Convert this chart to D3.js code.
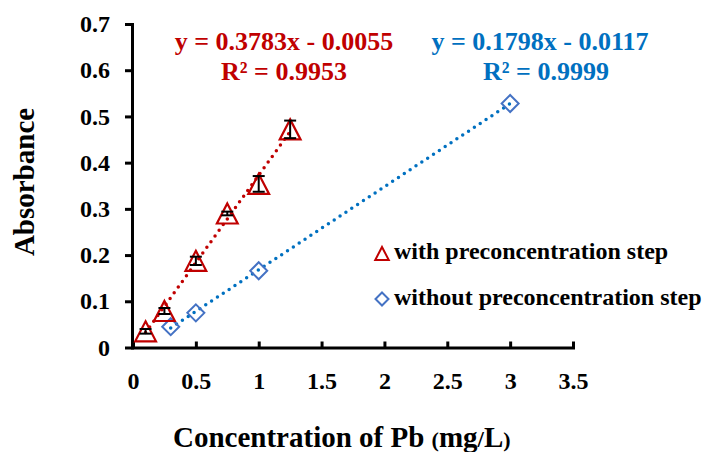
<!DOCTYPE html>
<html>
<head>
<meta charset="utf-8">
<script src="https://cdn.jsdelivr.net/npm/d3@7"></script>
<style>
  body { margin: 0; background: #fff; }
  svg { display: block; font-family: "Liberation Serif", "Times New Roman", serif; font-weight: bold; }
</style>
</head>
<body>
<svg id="chart"></svg>
<script>
const w = 702;
const h = 452;

// with preconcentration step
const withX = [0.1, 0.25, 0.5, 0.75, 1.0, 1.25];
const withY = [0.035, 0.079, 0.1875, 0.290, 0.354, 0.472];
const withErr = [0.005, 0.0065, 0.009, 0.004, 0.017, 0.019];

// without preconcentration step
const withoutX = [0.3, 0.5, 1.0, 3.0];
const withoutY = [0.045, 0.075, 0.166, 0.528];

const withFit = { slope: 0.3783, intercept: -0.0055 };
const withoutFit = { slope: 0.1798, intercept: -0.0117 };

const xTicks = [0, 0.5, 1, 1.5, 2, 2.5, 3, 3.5];
const yTicks = [0, 0.1, 0.2, 0.3, 0.4, 0.5, 0.6, 0.7];

const legendLabels = ['with preconcentration step', 'without preconcentration step'];

const red = '#C00000';
const blue = '#0070C0';
const diamondBlue = '#4472C4';

const svg = d3.select('#chart').attr('width', w).attr('height', h);

const x = d3.scaleLinear().domain([0, 3.5]).range([133, 573]);
const y = d3.scaleLinear().domain([0, 0.7]).range([347.5, 24]);

////////// AXES //////////

const xAxis = svg.append('g')
  .attr('transform', `translate(0,${y(0)})`)
  .call(d3.axisBottom(x).tickValues(xTicks).tickFormat(d3.format('')).tickSize(-6).tickSizeOuter(0).tickPadding(24));

const yAxis = svg.append('g')
  .attr('transform', `translate(${x(0) - 1},0)`)
  .call(d3.axisLeft(y).tickValues(yTicks).tickFormat(d3.format('')).tickSize(7).tickSizeOuter(0).tickPadding(15));

[xAxis, yAxis].forEach((g) => {
  g.select('.domain').attr('stroke', '#000').attr('stroke-width', 3).attr('stroke-linecap', 'square');
  g.selectAll('.tick line').attr('stroke', '#000').attr('stroke-width', 3);
  g.selectAll('.tick text').attr('fill', '#000').style('font-size', '24px').style('font-family', 'Liberation Serif').style('font-weight', 'bold');
});

svg.append('text')
  .attr('transform', 'translate(34,182) rotate(-90)')
  .attr('text-anchor', 'middle')
  .style('font-size', '29px')
  .text('Absorbance');

const xLabel = svg.append('text')
  .attr('x', 173)
  .attr('y', 447)
  .style('font-size', '29px');
xLabel.append('tspan').text('Concentration of Pb ');
xLabel.append('tspan').style('font-size', '22px').text('(');
xLabel.append('tspan').text('mg');
xLabel.append('tspan').style('font-size', '23px').text('/');
xLabel.append('tspan').text('L');
xLabel.append('tspan').style('font-size', '22px').text(')');

////////// TRENDLINES //////////

function trend(fit, xs, color) {
  const x0 = d3.min(xs);
  const x1 = d3.max(xs);
  svg.append('line')
    .attr('x1', x(x0)).attr('y1', y(fit.slope * x0 + fit.intercept))
    .attr('x2', x(x1)).attr('y2', y(fit.slope * x1 + fit.intercept))
    .attr('stroke', color)
    .attr('stroke-width', 3.5)
    .attr('stroke-linecap', 'round')
    .attr('stroke-dasharray', '0 7');
}
trend(withFit, withX, red);
trend(withoutFit, withoutX, blue);

////////// MARKERS //////////

const triangle = (cx, cy, s) =>
  `M${cx},${cy - s * 0.5}L${cx + s * 0.52},${cy + s * 0.5}L${cx - s * 0.52},${cy + s * 0.5}Z`;
const diamond = (cx, cy, r) =>
  `M${cx},${cy - r}L${cx + r},${cy}L${cx},${cy + r}L${cx - r},${cy}Z`;

svg.selectAll('.dia')
  .data(withoutX)
  .enter()
  .append('path')
  .attr('class', 'dia')
  .attr('d', (d, i) => diamond(x(d), y(withoutY[i]), 8.5))
  .attr('fill', 'none')
  .attr('stroke', diamondBlue)
  .attr('stroke-width', 2);

svg.selectAll('.tri')
  .data(withX)
  .enter()
  .append('path')
  .attr('class', 'tri')
  .attr('d', (d, i) => triangle(x(d), y(withY[i]), 20))
  .attr('fill', 'none')
  .attr('stroke', red)
  .attr('stroke-width', 2.2)
  .attr('stroke-linejoin', 'miter');

// error bars
const err = svg.selectAll('.err')
  .data(withX)
  .enter()
  .append('g')
  .attr('class', 'err')
  .attr('stroke', '#000')
  .attr('stroke-width', 2);
err.append('line')
  .attr('x1', (d) => x(d)).attr('x2', (d) => x(d))
  .attr('y1', (d, i) => y(withY[i] - withErr[i]))
  .attr('y2', (d, i) => y(withY[i] + withErr[i]));
[-1, 1].forEach((s) => {
  err.append('line')
    .attr('x1', (d) => x(d) - 6).attr('x2', (d) => x(d) + 6)
    .attr('y1', (d, i) => y(withY[i] + s * withErr[i]))
    .attr('y2', (d, i) => y(withY[i] + s * withErr[i]));
});

////////// EQUATIONS //////////

function eqLine(cx, cy, t, color) {
  svg.append('text')
    .attr('x', cx)
    .attr('y', cy)
    .attr('text-anchor', 'middle')
    .attr('fill', color)
    .style('font-size', '26px')
    .text(t);
}
eqLine(284, 50, 'y = 0.3783x - 0.0055', red);
eqLine(284, 80, 'R² = 0.9953', red);
eqLine(540, 50, 'y = 0.1798x - 0.0117', blue);
eqLine(546, 80, 'R² = 0.9999', blue);

////////// LEGEND //////////

const legend = svg.append('g');
legend.append('path')
  .attr('d', triangle(382, 253.5, 13))
  .attr('fill', 'none').attr('stroke', red).attr('stroke-width', 2);
legend.append('path')
  .attr('d', diamond(382, 299, 6.5))
  .attr('fill', 'none').attr('stroke', diamondBlue).attr('stroke-width', 2);
legendLabels.forEach((t, i) => {
  legend.append('text')
    .attr('x', 394)
    .attr('y', 259 + i * 46)
    .style('font-size', '24px')
    .text(t);
});
</script>
</body>
</html>
